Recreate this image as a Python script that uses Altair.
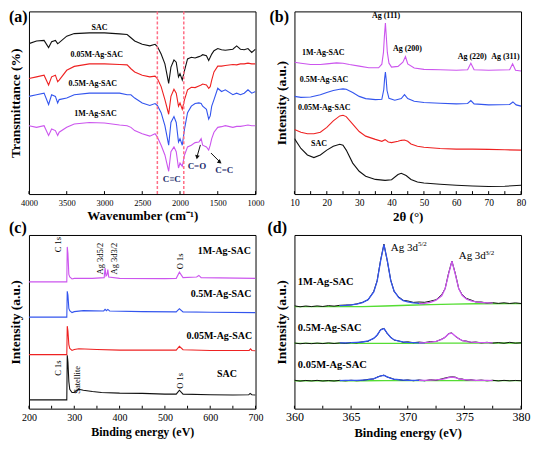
import altair as alt
import pandas as pd

SERIF = "Liberation Serif"
W = 227
H1 = 183
H2 = 174

BLACK = "#111111"
RED = "#ee2222"
BLUE = "#3355ee"
MAGENTA = "#cc55ee"
GREEN = "#55dd33"
PINK = "#ff6f86"
NAVY = "#1c2a6b"

# ---------------- (a) FTIR ----------------
a_wn = [4000, 3900, 3800, 3740, 3700, 3650, 3620, 3600, 3500, 3400, 3200, 3000, 2800, 2700, 2650,
        2600, 2500, 2400, 2330, 2300, 2250, 2200, 2150, 2120, 2080, 2050, 2020, 2000, 1970, 1940,
        1900, 1850, 1800, 1750, 1720, 1700, 1650, 1620, 1600, 1580, 1550, 1500, 1450, 1400, 1300,
        1250, 1200, 1150, 1100, 1050, 1000]
a_sac = [154, 156.7, 157.3, 150, 156, 157.3, 154, 155, 161.7, 164.3, 165, 165, 164, 163.3, 160,
         156.7, 153.3, 151.7, 153.3, 151, 143.3, 133.3, 113.3, 130, 137.3, 135, 120, 123.3, 116.7, 126.7,
         138.3, 140, 139.3, 140.7, 141.7, 142.7, 141.7, 136.7, 140, 143.3, 146.7, 149, 147.7, 147.3, 148.3,
         151.7, 148.3, 147.7, 149, 145, 148.3]
a_005 = [118.3, 120, 121.7, 111.7, 120, 121.7, 115, 116.7, 126.7, 130.7, 133.3, 133.3, 132.7, 132.3, 128.3,
         125, 121.7, 120, 120.7, 118.3, 110, 96.7, 81.7, 100, 107.3, 103.3, 90, 93.3, 86.7, 96.7,
         106.7, 109.3, 109, 110.7, 111.7, 112.7, 111.7, 108.3, 110, 116.7, 125, 131, 131, 131.7, 132.7,
         132.3, 133.3, 133.3, 134, 133.3, 133.3]
a_05 = [100, 101.7, 103.3, 91.7, 101.7, 100, 93.3, 96.7, 98.3, 101.7, 103.3, 103.3, 103.3, 101.7, 101.7,
        98.3, 93.3, 90.7, 92.7, 90.7, 83.3, 70, 50, 73.3, 79.3, 73.3, 53.3, 56.7, 50, 66.7,
        83.3, 90, 92.7, 93.3, 92.7, 90, 86.7, 76.7, 80, 90, 96.7, 108.3, 105, 106.7, 101.7,
        103.3, 101.7, 103.3, 106.7, 103.3, 105]
a_1m = [70, 68.3, 70, 60, 66.7, 65, 60, 63.3, 68.3, 71.7, 73.3, 72.7, 70.7, 70, 68.3,
        65, 61.7, 59.3, 61.7, 58.3, 50, 40, 23.3, 43.3, 48.3, 43.3, 26.7, 31.7, 28.3, 40,
        48.3, 50, 52.7, 53.3, 56.7, 50, 48.3, 45, 50, 56.7, 63.3, 68.3, 69, 70, 68.3,
        69.3, 69.3, 70, 70.7, 70, 70]
a_dash = [2300, 1950]
a_ticks = [4000, 3500, 3000, 2500, 2000, 1500, 1000]
a_lab_t = ["SAC", "0.05M-Ag-SAC", "0.5M-Ag-SAC", "1M-Ag-SAC"]
a_lab_x = [3067, 3103, 3155, 3118]
a_lab_y = [170, 142, 113, 82]
a_bond_t = ["C\u2261C", "C=O", "C=C"]
a_bond_x = [2110, 1776, 1415]
a_bond_y = [15, 28.7, 24.3]
a_arrow_seg = ["o", "o", "c", "c"]
a_arrow_x = [1730, 1772, 1590, 1480]
a_arrow_y = [50.3, 39, 42, 33.5]
a_head_x = [1774, 1472]
a_head_y = [37.7, 32.7]
a_head_ang = [10, 309]

# ---------------- (b) XRD ----------------
b_sac_x = [10, 12, 14, 16, 18, 20, 22, 24, 25, 26, 28, 30, 32, 35, 38, 40, 42, 43, 44.5, 46, 48, 50,
           55, 60, 65, 70, 75, 80]
b_sac_y = [56.7, 46.7, 40, 37.3, 40, 45, 49, 51, 50, 45, 31.7, 23.3, 18.3, 15, 14, 14.7, 20, 21.3, 19,
           15, 12.3, 11.3, 10, 9, 8.3, 7.7, 8, 9]
b_005_x = [10, 12, 14, 16, 18, 20, 22, 24, 25, 26, 28, 30, 32, 35, 37, 38, 39, 40, 42, 43, 44, 45, 46,
           48, 50, 55, 60, 65, 70, 75, 80]
b_005_y = [66, 63.3, 61.7, 61.7, 63.3, 68.3, 75, 80, 80.7, 79.3, 71.7, 64, 59.3, 56, 54, 55.7, 53.3,
           52.7, 54, 55, 55.3, 54, 51.3, 49, 48, 46.7, 46, 46, 45.7, 45.3, 45]
b_05_x = [10, 12, 15, 18, 20, 22, 24, 25, 26, 28, 30, 32, 35, 37, 37.6, 37.85, 38.1, 38.35, 38.6, 39.2,
          41, 43, 44, 45, 47, 50, 55, 60, 63.5, 64.5, 65.5, 70, 76.5, 77.5, 78.5, 80]
b_05_y = [100, 99, 99.3, 101.7, 104, 106, 107.3, 107.7, 107.3, 104, 100, 97.7, 96.7, 97, 107, 118, 125,
          117, 106, 98, 96, 97.7, 101.7, 97.7, 95, 93.7, 93, 92.3, 92.7, 95.7, 92.3, 91.3, 91.7, 94.3,
          91.3, 90]
b_1m_x = [10, 12, 15, 18, 20, 23, 25, 27, 30, 33, 36, 37, 37.5, 37.8, 38.1, 38.4, 38.7, 39.2, 40, 42,
          43.5, 44.3, 45, 47, 50, 55, 60, 63.5, 64.5, 65.5, 70, 76.5, 77.4, 78.3, 80]
b_1m_y = [135, 134, 132.7, 132.7, 133.3, 134.3, 134, 132.7, 131, 129.3, 129.3, 133, 145, 162, 175, 160,
          145, 134, 130, 130.7, 135, 140.7, 133.3, 129, 127.7, 127.3, 126.7, 127.3, 134, 127.3, 126.7,
          127.3, 133.3, 126.7, 126]
b_ticks = [10, 15, 20, 25, 30, 35, 40, 45, 50, 55, 60, 65, 70, 75, 80]
b_peak_t = ["Ag (111)", "Ag (200)", "Ag (220)", "Ag (311)"]
b_peak_x = [38.3, 44.9, 64.9, 75.2]
b_peak_y = [182, 148.7, 140.3, 140.3]
b_lab_t = ["1M-Ag-SAC", "0.5M-Ag-SAC", "0.05M-Ag-SAC", "SAC"]
b_lab_x = [18.9, 19.1, 19.2, 17.6]
b_lab_y = [144.3, 117, 88.3, 51]

# ---------------- (c) XPS survey ----------------
c_sac_x = [200, 250, 283.5, 284.5, 286, 288, 290, 295, 300, 305, 310, 320, 340, 360, 400, 450, 500,
           525, 532, 540, 600, 650, 685, 688, 692, 700]
c_sac_y = [9, 9, 9, 55, 48, 28, 20, 16.7, 16.7, 19, 20, 19, 17.7, 16.7, 16, 15.7, 15, 15, 19, 15, 14.3,
           14, 14.3, 15.7, 14.3, 14]
c_005_x = [200, 250, 283.5, 284.5, 286, 288, 290, 295, 300, 310, 350, 400, 450, 525, 532, 540, 600,
           686, 689, 692, 700]
c_005_y = [55.7, 55.7, 55.7, 85, 80, 66, 62, 60, 61, 61.7, 61, 60.3, 60.3, 60.3, 64.3, 60.7, 60, 60,
           61.7, 60, 59.7]
c_05_x = [200, 250, 283.5, 284.5, 286, 288, 290, 295, 300, 320, 365, 368, 371, 374, 378, 450, 525, 532,
          540, 600, 700]
c_05_y = [94.3, 94.3, 94.3, 121, 117, 103.3, 101, 99, 100, 101, 100.7, 102.3, 101, 102.3, 100.7, 100,
          99.7, 103, 99.7, 99.3, 99]
c_1m_x = [200, 250, 283.5, 284.5, 286, 288, 290, 295, 300, 340, 366, 368, 370, 372, 374, 376, 400, 500,
          525, 532, 540, 570, 575, 580, 700]
c_1m_y = [130.7, 130.7, 130.7, 166.7, 160, 138.3, 135.7, 133.7, 134.3, 134.3, 135, 145, 136.7, 137.7,
          143.3, 135.7, 134.3, 134, 134.3, 140.7, 135, 135.7, 137.3, 135, 134.3]
c_ticks = [200, 250, 300, 350, 400, 450, 500, 550, 600, 650, 700]
c_peak_t = ["C 1s", "Ag 3d5/2", "Ag 3d3/2", "O 1s", "C 1s", "Satellite", "O 1s"]
c_peak_x = [264, 356, 388, 533, 265, 306, 533]
c_peak_y = [169, 154.7, 154.7, 151.7, 41.7, 29.7, 28.7]
c_lab_t = ["1M-Ag-SAC", "0.5M-Ag-SAC", "0.05M-Ag-SAC", "SAC"]
c_lab_x = [631, 624, 620, 637]
c_lab_y = [162, 117.7, 75, 35.7]

# ---------------- (d) Ag 3d ----------------
d_x = [360, 360.5, 361, 361.5, 362, 362.5, 363, 363.5, 364, 364.5, 365, 365.5, 366, 366.5, 367,
       367.3, 367.6, 367.9, 368.2, 368.5, 368.8, 369.2, 369.6, 370, 370.5, 371, 371.5, 372, 372.5, 373,
       373.3, 373.6, 373.9, 374.2, 374.5, 374.8, 375.2, 375.6, 376, 376.5, 377, 377.5, 378, 378.5, 379,
       379.5, 380]
d_1m = [105.4, 104.4, 105.2, 104.6, 105.3, 104.7, 105.6, 105.1, 105.9, 106.2, 106.3, 107.4, 108.9, 111.6,
        120.2, 131.2, 152.0, 168.6, 151.0, 131.8, 120.1, 114.6, 111.0, 110.4, 108.9, 109.3, 109.0, 110.2,
        111.6, 116.8, 123.0, 138.6, 151.3, 138.5, 123.1, 116.9, 112.9, 111.3, 109.4, 109.3, 108.2, 108.6,
        107.9, 108.5, 107.8, 108.4, 107.8]
d_05 = [67.3, 66.5, 67.1, 66.6, 67.2, 66.7, 67.4, 66.8, 67.4, 66.9, 67.8, 67.4, 68.5, 69.0, 72.2, 75.0,
        81.0, 82.3, 76.6, 73.2, 70.2, 69.5, 68.0, 68.5, 67.6, 68.2, 67.7, 68.7, 68.8, 71.3, 73.0, 77.0,
        77.6, 74.0, 71.9, 69.7, 69.2, 67.9, 68.3, 67.4, 68.0, 67.2, 67.7, 67.0, 68.0, 67.1, 67.5]
d_005 = [29.1, 28.2, 28.9, 28.4, 29.0, 28.3, 28.8, 28.3, 29.0, 28.5, 29.1, 28.6, 29.0, 30.0, 30.4, 32.4,
         33.4, 34.4, 32.2, 31.5, 29.9, 29.9, 28.9, 29.5, 28.6, 29.4, 28.6, 29.6, 29.1, 30.5, 31.4, 32.2,
         32.6, 32.3, 30.5, 30.4, 29.2, 29.6, 28.8, 29.3, 28.5, 29.1, 28.4, 29.0, 28.5, 28.9, 28.6]
d_fit1_x = [364, 364.5, 365, 365.5, 366, 366.5, 367, 367.3, 367.6, 367.9, 368.2, 368.5, 368.8, 369.2,
            369.6, 370, 370.5, 371, 371.5]
d_fit1_1m = [105.5, 105.8, 106.3, 107.1, 108.6, 111.7, 119.7, 130.7, 151.3, 168.1, 151.6, 131.2, 120.4,
             113.8, 110.8, 109.4, 108.5, 107.9, 107.7]
d_fit1_05 = [67.4, 67.5, 67.6, 67.9, 68.3, 69.4, 72.0, 75.5, 80.7, 82.0, 77.1, 72.9, 70.6, 69.1, 68.4,
             68.0, 67.7, 67.5, 67.4]
d_fit1_005 = [28.8, 28.9, 28.9, 29.0, 29.3, 29.7, 30.7, 32.0, 33.7, 34.1, 32.6, 31.1, 30.2, 29.6, 29.3,
              29.1, 29.0, 28.9, 28.8]
d_fit2_x = [371, 371.5, 372, 372.5, 373, 373.3, 373.6, 373.9, 374.2, 374.5, 374.8, 375.2, 375.6, 376,
            376.5, 377, 377.5]
d_fit2_1m = [107.3, 108.0, 108.9, 111.1, 115.7, 122.8, 137.6, 151.2, 137.7, 123.1, 116.2, 112.1, 110.4,
             109.4, 108.8, 108.4, 108.1]
d_fit2_05 = [67.5, 67.7, 68.1, 69.0, 70.9, 73.3, 76.6, 77.3, 74.4, 71.6, 70.0, 68.8, 68.2, 67.9, 67.7,
             67.6, 67.5]
d_fit2_005 = [28.9, 29.0, 29.2, 29.5, 30.1, 30.8, 31.8, 32.3, 31.8, 30.8, 30.1, 29.6, 29.3, 29.1, 29.0,
              28.9, 28.8]
d_base_x = [360, 366, 368, 370, 372, 374, 376, 380]
d_base_1m = [104.5, 104.6, 105.2, 106.0, 106.6, 107.2, 107.5, 107.6]
d_base_05 = [66.8, 66.9, 67.0, 67.0, 67.1, 67.2, 67.2, 67.3]
d_base_005 = [28.6, 28.6, 28.7, 28.7, 28.7, 28.8, 28.8, 28.8]
d_ticks = [360, 362.5, 365, 367.5, 370, 372.5, 375, 377.5, 380]
d_lab_t = ["1M-Ag-SAC", "0.5M-Ag-SAC", "0.05M-Ag-SAC"]
d_lab_x = [360.3, 360.3, 360.3]
d_lab_y = [129.3, 82.7, 44.3]
d_peak_t = ["Ag 3d", "Ag 3d"]
d_peak_x = [368.5, 374.5]
d_peak_y = [164.3, 156]
d_sup_t = ["5/2", "3/2"]
d_sup_x = [370.9, 376.85]
d_sup_y = [168.5, 160]


# ---------------- helpers ----------------
def long_df(items):
    rows = []
    for name, xs, ys in items:
        for xv, yv in zip(xs, ys):
            rows.append({"s": name, "x": xv, "y": yv})
    return pd.DataFrame(rows)


def encs(xdom, ydom, xvals, xtitle, ytitle, lab, labpad, xts, xtpad, yts, reverse=False):
    xs = alt.Scale(domain=xdom, reverse=reverse, nice=False, zero=False)
    ys = alt.Scale(domain=ydom, nice=False, zero=False)
    xa = alt.Axis(
        title=xtitle, values=xvals, format="d", labelFont=SERIF, labelFontSize=lab,
        labelColor="black", labelPadding=labpad, labelFlush=False, labelOverlap=False,
        titleFont=SERIF, titleFontSize=xts, titleFontWeight="bold", titleColor="black",
        titlePadding=xtpad, ticks=False, domain=False, grid=False)
    ya = alt.Axis(
        title=ytitle, labels=False, ticks=False, domain=False, grid=False,
        titleFont=SERIF, titleFontSize=yts, titleFontWeight="bold", titleColor="black",
        titlePadding=6)
    xe = alt.X("x:Q", scale=xs, axis=xa)
    ye = alt.Y("y:Q", scale=ys, axis=ya)
    return xe, ye


def tick_layer(vals, xe, ye, y0, length=3):
    df = pd.DataFrame({"x": vals, "y": [y0] * len(vals), "y2": [y0 + length] * len(vals)})
    return alt.Chart(df).mark_rule(color="black", strokeWidth=1).encode(x=xe, y=ye, y2="y2:Q")


def text_layer(xv, yv, tv, xe, ye, size, weight="bold", color="black", align="center", angle=0):
    df = pd.DataFrame({"x": xv, "y": yv, "t": tv})
    return alt.Chart(df).mark_text(font=SERIF, fontSize=size, fontWeight=weight, color=color,
                                   align=align, baseline="middle", angle=angle).encode(
        x=xe, y=ye, text="t:N")


def letter(t, dx, dy):
    return alt.Chart(pd.DataFrame({"t": [t]})).mark_text(
        font=SERIF, fontSize=16, fontWeight="bold", align="left", baseline="top", color="black"
    ).encode(x=alt.value(dx), y=alt.value(dy), text="t:N")


def colored_lines(df, names, colors, xe, ye, width=1.1):
    return alt.Chart(df).mark_line(strokeWidth=width, clip=True).encode(
        x=xe, y=ye,
        color=alt.Color("s:N", scale=alt.Scale(domain=names, range=colors), legend=None))


names = ["SAC", "0.05M", "0.5M", "1M"]
cols = [BLACK, RED, BLUE, MAGENTA]

# ---------------- panel (a) ----------------
xe_a, ye_a = encs([1000, 4000], [0, 187], a_ticks, "Wavenumber (cm\u207b\u00b9)", "Transmittance (%)",
                  8.5, 4, 13, 3, 13.5, reverse=True)
df_a = long_df([("SAC", a_wn, a_sac), ("0.05M", a_wn, a_005), ("0.5M", a_wn, a_05), ("1M", a_wn, a_1m)])
dash_a = alt.Chart(pd.DataFrame({"x": a_dash})).mark_rule(
    color=PINK, strokeDash=[3, 2], strokeWidth=1.5).encode(x=xe_a)
arrow_df = pd.DataFrame({"seg": a_arrow_seg, "x": a_arrow_x, "y": a_arrow_y})
arrows_a = alt.Chart(arrow_df).mark_line(color=BLACK, strokeWidth=1).encode(
    x=xe_a, y=ye_a, detail="seg:N")
heads_a = alt.Chart(pd.DataFrame({"x": a_head_x, "y": a_head_y, "ang": a_head_ang})).mark_point(
    shape="triangle-down", filled=True, size=22, color=BLACK, opacity=1).encode(
    x=xe_a, y=ye_a, angle=alt.Angle("ang:Q", scale=None))
panel_a = alt.layer(
    colored_lines(df_a, names, cols, xe_a, ye_a), dash_a,
    tick_layer(a_ticks, xe_a, ye_a, 0),
    text_layer(a_lab_x, a_lab_y, a_lab_t, xe_a, ye_a, 8),
    text_layer(a_bond_x, a_bond_y, a_bond_t, xe_a, ye_a, 9, color=NAVY),
    arrows_a, heads_a,
    letter("(a)", -20, -2),
).properties(width=W, height=H1)

# ---------------- panel (b) ----------------
xe_b, ye_b = encs([10, 80], [0, 187], [10, 20, 30, 40, 50, 60, 70, 80], "2\u03b8 (\u00b0)",
                  "Intensity (a.u.)", 9.5, 3.5, 13, 3.5, 13.5)
df_b = long_df([("SAC", b_sac_x, b_sac_y), ("0.05M", b_005_x, b_005_y),
                ("0.5M", b_05_x, b_05_y), ("1M", b_1m_x, b_1m_y)])
panel_b = alt.layer(
    colored_lines(df_b, names, cols, xe_b, ye_b),
    tick_layer(b_ticks, xe_b, ye_b, 0),
    text_layer(b_peak_x, b_peak_y, b_peak_t, xe_b, ye_b, 8),
    text_layer(b_lab_x, b_lab_y, b_lab_t, xe_b, ye_b, 8),
    letter("(b)", -25, -2),
).properties(width=W, height=H1)

# ---------------- panel (c) ----------------
xe_c, ye_c = encs([200, 700], [0, 179], [200, 300, 400, 500, 600, 700], "Binding energy (eV)",
                  "Intensity (a.u.)", 10, 4, 12, 4, 13.5)
df_c = long_df([("SAC", c_sac_x, c_sac_y), ("0.05M", c_005_x, c_005_y),
                ("0.5M", c_05_x, c_05_y), ("1M", c_1m_x, c_1m_y)])
panel_c = alt.layer(
    colored_lines(df_c, names, cols, xe_c, ye_c),
    tick_layer(c_ticks, xe_c, ye_c, 0),
    text_layer(c_peak_x, c_peak_y, c_peak_t, xe_c, ye_c, 8.5, weight="normal", angle=270),
    text_layer(c_lab_x, c_lab_y, c_lab_t, xe_c, ye_c, 10),
    letter("(c)", -20, -15),
).properties(width=W, height=H2)

# ---------------- panel (d) ----------------
xe_d, ye_d = encs([360, 380], [0, 178], [360, 365, 370, 375, 380], "Binding energy (eV)",
                  "Intensity (a.u.)", 12, 3, 12.5, 4, 13.5)
df_base = long_df([("1M", d_base_x, d_base_1m), ("0.5M", d_base_x, d_base_05), ("0.05M", d_base_x, d_base_005)])
df_dat = long_df([("1M", d_x, d_1m), ("0.5M", d_x, d_05), ("0.05M", d_x, d_005)])
df_f1 = long_df([("1M", d_fit1_x, d_fit1_1m), ("0.5M", d_fit1_x, d_fit1_05), ("0.05M", d_fit1_x, d_fit1_005)])
df_f2 = long_df([("1M", d_fit2_x, d_fit2_1m), ("0.5M", d_fit2_x, d_fit2_05), ("0.05M", d_fit2_x, d_fit2_005)])
base_d = alt.Chart(df_base).mark_line(color=GREEN, strokeWidth=1.3, clip=True).encode(
    x=xe_d, y=ye_d, detail="s:N")
dat_d = alt.Chart(df_dat).mark_line(color=BLACK, strokeWidth=1, clip=True).encode(
    x=xe_d, y=ye_d, detail="s:N")
f1_d = alt.Chart(df_f1).mark_line(color=BLUE, strokeWidth=1.3, clip=True).encode(
    x=xe_d, y=ye_d, detail="s:N")
f2_d = alt.Chart(df_f2).mark_line(color=MAGENTA, strokeWidth=1.3, clip=True).encode(
    x=xe_d, y=ye_d, detail="s:N")
panel_d = alt.layer(
    base_d, dat_d, f1_d, f2_d,
    tick_layer(d_ticks, xe_d, ye_d, 0),
    text_layer(d_lab_x, d_lab_y, d_lab_t, xe_d, ye_d, 10.5, align="left"),
    text_layer(d_peak_x, d_peak_y, d_peak_t, xe_d, ye_d, 11, weight="normal", align="left"),
    text_layer(d_sup_x, d_sup_y, d_sup_t, xe_d, ye_d, 7, weight="normal", align="left"),
    letter("(d)", -27, -15),
).properties(width=W, height=H2)

chart = alt.concat(
    panel_a, panel_b, panel_c, panel_d,
    columns=2, spacing={"row": 41, "column": 39}, bounds="flush",
).properties(padding=0, background="white").configure_view(stroke="black", strokeWidth=1)

chart.save("out.html", embed_options={"renderer": "svg", "actions": False})
